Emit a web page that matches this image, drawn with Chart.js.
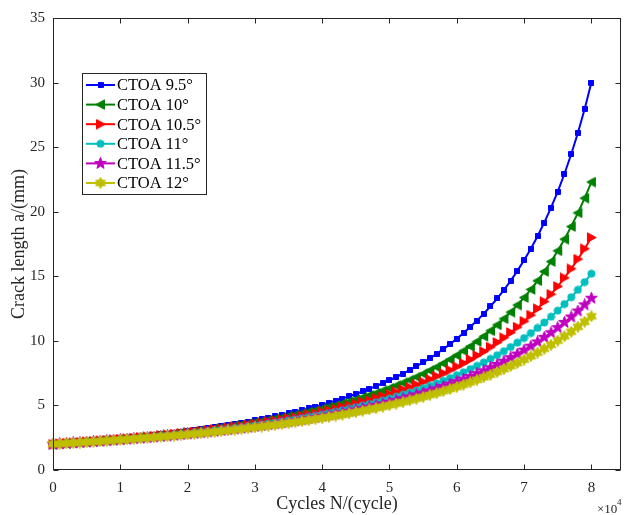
<!DOCTYPE html>
<html><head><meta charset="utf-8">
<script src="https://cdn.jsdelivr.net/npm/chart.js@4.4.0/dist/chart.umd.min.js"></script>
<style>html,body{margin:0;padding:0;background:#fff;}canvas{display:block;}</style>
</head><body>
<canvas id="c" width="627" height="515"></canvas>
<script>
// ---- data (x in units of 1e4 cycles, y in mm) ----
const cycles = [
0.0,0.1,0.2,0.3,0.4,0.5,0.6,0.7,0.8,0.9,
1.0,1.1,1.2,1.3,1.4,1.5,1.6,1.7,1.8,1.9,
2.0,2.1,2.2,2.3,2.4,2.5,2.6,2.7,2.8,2.9,
3.0,3.1,3.2,3.3,3.4,3.5,3.6,3.7,3.8,3.9,
4.0,4.1,4.2,4.3,4.4,4.5,4.6,4.7,4.8,4.9,
5.0,5.1,5.2,5.3,5.4,5.5,5.6,5.7,5.8,5.9,
6.0,6.1,6.2,6.3,6.4,6.5,6.6,6.7,6.8,6.9,
7.0,7.1,7.2,7.3,7.4,7.5,7.6,7.7,7.8,7.9,
8.0];
const seriesNames = ['CTOA 9.5°','CTOA 10°','CTOA 10.5°','CTOA 11°','CTOA 11.5°','CTOA 12°'];
const ctoa95 = [
2.00,2.04,2.08,2.12,2.16,2.20,2.24,2.29,2.33,2.38,
2.43,2.48,2.53,2.59,2.64,2.70,2.76,2.82,2.88,2.95,
3.01,3.08,3.16,3.23,3.31,3.39,3.47,3.56,3.65,3.74,
3.84,3.94,4.04,4.15,4.27,4.38,4.51,4.64,4.77,4.91,
5.05,5.21,5.37,5.53,5.71,5.89,6.08,6.28,6.50,6.72,
6.95,7.20,7.46,7.73,8.02,8.33,8.65,9.00,9.36,9.75,
10.16,10.60,11.07,11.57,12.10,12.67,13.28,13.94,14.65,15.42,
16.24,17.14,18.10,19.16,20.31,21.56,22.94,24.45,26.11,27.96,
30.00];
const ctoa10 = [
2.00,2.04,2.07,2.11,2.15,2.19,2.23,2.27,2.31,2.36,
2.40,2.45,2.50,2.55,2.60,2.65,2.71,2.76,2.82,2.88,
2.94,3.00,3.07,3.14,3.21,3.28,3.35,3.43,3.51,3.59,
3.68,3.77,3.86,3.96,4.06,4.16,4.27,4.38,4.49,4.61,
4.74,4.87,5.00,5.15,5.29,5.45,5.61,5.78,5.95,6.14,
6.33,6.53,6.74,6.96,7.20,7.44,7.70,7.97,8.26,8.56,
8.88,9.22,9.57,9.95,10.35,10.78,11.23,11.71,12.22,12.77,
13.35,13.98,14.65,15.37,16.14,16.97,17.87,18.85,19.91,21.05,
22.30];
const ctoa105 = [
2.00,2.03,2.07,2.10,2.14,2.18,2.22,2.26,2.30,2.34,
2.38,2.42,2.47,2.52,2.56,2.61,2.66,2.72,2.77,2.82,
2.88,2.94,3.00,3.06,3.13,3.19,3.26,3.33,3.40,3.48,
3.56,3.64,3.72,3.81,3.89,3.99,4.08,4.18,4.28,4.39,
4.50,4.62,4.73,4.86,4.99,5.12,5.26,5.40,5.56,5.71,
5.88,6.05,6.23,6.42,6.61,6.82,7.03,7.26,7.49,7.74,
8.00,8.27,8.56,8.87,9.18,9.52,9.88,10.25,10.65,11.07,
11.52,12.00,12.50,13.04,13.61,14.22,14.88,15.58,16.33,17.13,
18.00];
const ctoa11 = [
2.00,2.03,2.07,2.10,2.13,2.17,2.21,2.24,2.28,2.32,
2.36,2.40,2.45,2.49,2.53,2.58,2.63,2.68,2.73,2.78,
2.83,2.88,2.94,3.00,3.06,3.12,3.18,3.25,3.31,3.38,
3.45,3.53,3.60,3.68,3.76,3.85,3.93,4.02,4.11,4.21,
4.31,4.41,4.52,4.63,4.74,4.86,4.98,5.11,5.24,5.38,
5.52,5.67,5.83,5.99,6.16,6.34,6.52,6.71,6.91,7.12,
7.34,7.57,7.81,8.06,8.32,8.60,8.89,9.20,9.52,9.86,
10.22,10.60,11.00,11.42,11.87,12.34,12.85,13.38,13.95,14.55,
15.20];
const ctoa115 = [
2.00,2.03,2.06,2.10,2.13,2.16,2.20,2.23,2.27,2.31,
2.35,2.39,2.43,2.47,2.51,2.55,2.60,2.64,2.69,2.74,
2.79,2.84,2.89,2.95,3.00,3.06,3.12,3.18,3.24,3.30,
3.37,3.44,3.51,3.58,3.65,3.73,3.81,3.89,3.98,4.06,
4.15,4.25,4.34,4.44,4.55,4.65,4.76,4.88,5.00,5.12,
5.25,5.38,5.52,5.66,5.81,5.96,6.12,6.29,6.47,6.65,
6.84,7.04,7.24,7.46,7.68,7.92,8.17,8.42,8.70,8.98,
9.28,9.59,9.92,10.27,10.63,11.02,11.43,11.85,12.31,12.79,
13.30];
const ctoa12 = [
2.00,2.03,2.06,2.09,2.12,2.16,2.19,2.22,2.26,2.30,
2.33,2.37,2.41,2.45,2.49,2.53,2.57,2.61,2.66,2.71,
2.75,2.80,2.85,2.90,2.95,3.01,3.06,3.12,3.18,3.24,
3.30,3.36,3.43,3.49,3.56,3.63,3.71,3.78,3.86,3.94,
4.02,4.11,4.20,4.29,4.38,4.48,4.58,4.69,4.79,4.90,
5.02,5.14,5.26,5.39,5.52,5.66,5.81,5.95,6.11,6.27,
6.44,6.61,6.79,6.98,7.18,7.38,7.59,7.82,8.05,8.29,
8.55,8.81,9.09,9.39,9.69,10.02,10.36,10.71,11.09,11.48,
11.90];
const xTickValues = [0,1,2,3,4,5,6,7,8];
const yTickValues = [0,5,10,15,20,25,30,35];
const xAxisTitle = 'Cycles N/(cycle)';
const yAxisTitle = 'Crack length a/(mm)';
const xScaleBase = '×10';
const xScaleExp = '4';

// ---- styling ----
const seriesValues = [ctoa95, ctoa10, ctoa105, ctoa11, ctoa115, ctoa12];
const colors = ['#0000FF','#008000','#FF0000','#00BFBF','#BF00BF','#BFBF00'];
const markerKinds = ['square','triLeft','triRight','circle','pentagram','hexagram'];
const FONT = '"Liberation Serif", "Times New Roman", serif';
const TXT = '#262626';

function makeMarker(kind, color) {
  const cv = document.createElement('canvas');
  let s = 11;
  if (kind === 'square') s = 6;
  if (kind === 'circle') s = 9;
  if (kind === 'pentagram') s = 13;
  if (kind === 'hexagram') s = 12;
  cv.width = s; cv.height = s;
  const g = cv.getContext('2d');
  g.fillStyle = color; g.strokeStyle = color; g.lineWidth = 1;
  const c = s / 2;
  g.beginPath();
  if (kind === 'square') {
    g.rect(0.5, 0.5, s - 1, s - 1);
  } else if (kind === 'triLeft') {
    g.moveTo(0.8, c); g.lineTo(s - 1.5, 0.8); g.lineTo(s - 1.5, s - 0.8); g.closePath();
  } else if (kind === 'triRight') {
    g.moveTo(s - 0.8, c); g.lineTo(1.5, 0.8); g.lineTo(1.5, s - 0.8); g.closePath();
  } else if (kind === 'circle') {
    g.arc(c, c, 3.6, 0, Math.PI * 2);
  } else if (kind === 'pentagram' || kind === 'hexagram') {
    const n = kind === 'pentagram' ? 5 : 6;
    const ro = c - 0.4, ri = kind === 'pentagram' ? ro * 0.42 : ro * 0.58;
    for (let k = 0; k < 2 * n; k++) {
      const r = k % 2 === 0 ? ro : ri;
      const a = -Math.PI / 2 + k * Math.PI / n;
      const px = c + r * Math.cos(a), py = c + r * Math.sin(a);
      if (k === 0) g.moveTo(px, py); else g.lineTo(px, py);
    }
    g.closePath();
  }
  g.fill(); g.stroke();
  return cv;
}
const markers = markerKinds.map((k, i) => makeMarker(k, colors[i]));

const datasets = seriesNames.map((name, i) => ({
  label: name,
  data: cycles.map((x, j) => ({ x: x, y: seriesValues[i][j] })),
  borderColor: colors[i],
  backgroundColor: colors[i],
  borderWidth: 2,
  pointStyle: markers[i],
  pointRadius: 4,
  pointHoverRadius: 4,
  tension: 0,
  fill: false,
  clip: false,
  order: seriesNames.length - i
}));

const frame = {
  id: 'frame',
  beforeDraw(chart) {
    const ctx = chart.ctx;
    ctx.save(); ctx.fillStyle = '#fff'; ctx.fillRect(0, 0, chart.width, chart.height); ctx.restore();
  },
  afterDraw(chart) {
    const ctx = chart.ctx, a = chart.chartArea;
    const xs = chart.scales.x, ys = chart.scales.y;
    ctx.save();
    ctx.strokeStyle = TXT; ctx.lineWidth = 1;
    const L = Math.round(a.left) + 0.5, R = Math.round(a.right) - 0.5;
    const T = Math.round(a.top) + 0.5, B = Math.round(a.bottom) - 0.5;
    ctx.strokeRect(L, T, R - L, B - T);
    const tl = 5;
    ctx.beginPath();
    xTickValues.forEach(v => {
      const px = Math.round(xs.getPixelForValue(v)) + 0.5;
      ctx.moveTo(px, B); ctx.lineTo(px, B - tl);
      ctx.moveTo(px, T); ctx.lineTo(px, T + tl);
    });
    yTickValues.forEach(v => {
      const py = Math.round(ys.getPixelForValue(v)) + 0.5;
      ctx.moveTo(L, py); ctx.lineTo(L + tl, py);
      ctx.moveTo(R, py); ctx.lineTo(R - tl, py);
    });
    ctx.stroke();

    // exponent label
    ctx.fillStyle = TXT;
    ctx.textBaseline = 'alphabetic'; ctx.textAlign = 'left';
    ctx.font = '13px ' + FONT;
    ctx.fillText(xScaleBase, 597, 513);
    ctx.font = '9px ' + FONT;
    ctx.fillText(xScaleExp, 617, 505);

    // legend
    const bx = 82.5, by = 73.5, bw = 124, bh = 121;
    ctx.fillStyle = '#fff';
    ctx.fillRect(bx, by, bw, bh);
    ctx.strokeStyle = TXT; ctx.lineWidth = 1;
    ctx.strokeRect(bx, by, bw, bh);
    ctx.font = '16.5px ' + FONT;
    ctx.textBaseline = 'middle';
    seriesNames.forEach((name, i) => {
      const y = 85 + 19.6 * i;
      ctx.strokeStyle = colors[i]; ctx.lineWidth = 2;
      ctx.beginPath(); ctx.moveTo(86, y); ctx.lineTo(115, y); ctx.stroke();
      const m = markers[i];
      ctx.drawImage(m, 100.5 - m.width / 2, y - m.height / 2);
      ctx.fillStyle = '#000';
      ctx.fillText(name, 117, y + 1);
    });
    ctx.restore();
  }
};

new Chart(document.getElementById('c'), {
  type: 'line',
  data: { datasets: datasets },
  options: {
    responsive: false,
    devicePixelRatio: 1,
    animation: false,
    events: [],
    layout: { padding: { top: 18, right: 2, left: 0, bottom: 0 } },
    plugins: { legend: { display: false }, tooltip: { enabled: false }, title: { display: false } },
    scales: {
      x: {
        type: 'linear', min: 0, max: 8.44,
        afterBuildTicks: s => { s.ticks = xTickValues.map(v => ({ value: v })); },
        afterFit: s => { s.height = 45; },
        grid: { display: false, drawTicks: false },
        border: { display: false },
        ticks: { font: { family: FONT, size: 15 }, color: TXT, padding: 9, maxRotation: 0, autoSkip: false },
        title: { display: true, text: xAxisTitle, font: { family: FONT, size: 18 }, color: TXT, padding: { top: 0, bottom: 0 } }
      },
      y: {
        type: 'linear', min: 0, max: 35,
        afterBuildTicks: s => { s.ticks = yTickValues.map(v => ({ value: v })); },
        afterFit: s => { s.width = 53; },
        grid: { display: false, drawTicks: false },
        border: { display: false },
        ticks: { font: { family: FONT, size: 15 }, color: TXT, padding: 8, autoSkip: false },
        title: { display: true, text: yAxisTitle, font: { family: FONT, size: 18 }, color: TXT, padding: { top: 8, bottom: 0 } }
      }
    }
  },
  plugins: [frame]
});
</script>
</body></html>
